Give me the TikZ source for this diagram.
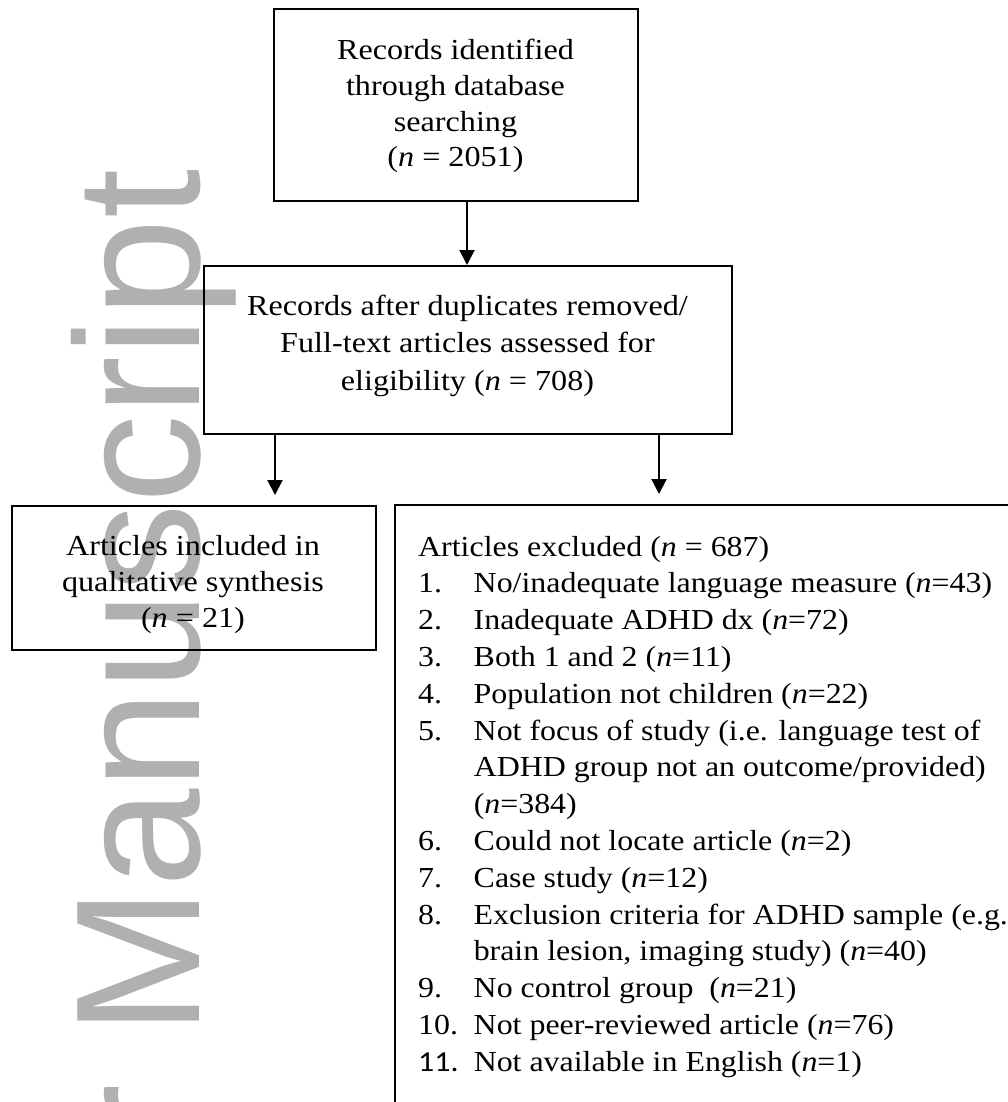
\documentclass[tikz,border=0pt]{standalone}
\usepackage{graphicx}
\usepackage{fontspec}
\setmainfont{Liberation Serif}
\newfontfamily\wmfont{Liberation Sans}
\newfontfamily\calfont{Carlito}
\usetikzlibrary{arrows.meta}
\definecolor{wmgray}{RGB}{176,176,176}
\newcommand\cblock[2]{\scalebox{1.11}[1]{\vtop{\baselineskip=#1\halign{\hfil##\hfil\cr#2\crcr}}}}
\newcommand\litem[2]{\hbox{\makebox[50.5pt][l]{#1}#2}}
\begin{document}
\begin{tikzpicture}[x=1pt,y=-1pt,
  box/.style={draw, rectangle, line width=2pt, inner sep=0pt},
  txt/.style={inner sep=0pt, font=\fontsize{29}{36}\selectfont},
  arr/.style={line width=2pt, -{Triangle[length=15pt,width=15pt]}},
  wm/.style={rotate=90, anchor=base east, inner sep=0pt, text=wmgray,
    font=\wmfont\fontsize{177}{177}\selectfont}]
\useasboundingbox (0,0) rectangle (1008,1102);
\fill[white] (0,0) rectangle (1008,1102);
\clip (0,0) rectangle (1008,1102);
% watermark
\node[wm] (wmark) at (199,169) {Author Manuscript};
% boxes
\node[box, minimum width=364pt, minimum height=192pt] (b1) at (456,105) {};
\node[box, minimum width=528pt, minimum height=168pt] (b2) at (468,350) {};
\node[box, minimum width=364pt, minimum height=144pt] (b3) at (194,578) {};
\node[box, minimum width=645pt, minimum height=625pt] (b4) at (717.5,817.5) {};
% texts
\node[txt, anchor=base] (t1) at (455.5,60) {\cblock{35.6pt}{Records identified\cr through database\cr searching\cr (\textit{n} = 2051)}};
\node[txt, anchor=base] (t2) at (467.5,315.5) {\cblock{37.3pt}{Records after duplicates removed/\cr Full-text articles assessed for\cr eligibility (\textit{n} = 708)}};
\node[txt, anchor=base] (t3) at (193,555) {\cblock{36pt}{Articles included in\cr qualitative synthesis\cr (\textit{n} = 21)}};
\node[txt, anchor=base west] (t4) at (418,556) {\scalebox{1.10}[1]{\vtop{\baselineskip=36.8pt
  \hbox{Articles excluded (\textit{n} = 687)}
  \litem{1.}{No/inadequate language measure (\textit{n}=43)}
  \litem{2.}{Inadequate ADHD dx (\textit{n}=72)}
  \litem{3.}{Both 1 and 2 (\textit{n}=11)}
  \litem{4.}{Population not children (\textit{n}=22)}
  \litem{5.}{Not focus of study (i.e. language test of}
  \litem{}{ADHD group not an outcome/provided)}
  \litem{}{(\textit{n}=384)}
  \litem{6.}{Could not locate article (\textit{n}=2)}
  \litem{7.}{Case study (\textit{n}=12)}
  \litem{8.}{Exclusion criteria for ADHD sample (e.g.}
  \litem{}{brain lesion, imaging study) (\textit{n}=40)}
  \litem{9.}{No control group\ \ (\textit{n}=21)}
  \litem{10.}{Not peer-reviewed article (\textit{n}=76)}
  \litem{{\calfont 11.}}{Not available in English (\textit{n}=1)}
}}};
% connectors
\draw[arr] ([xshift=11pt]b1.south) -- ([xshift=-1pt]b2.north);
\draw[arr, shorten >=10pt] ([xshift=-193pt]b2.south) -- ([xshift=81pt]b3.north);
\draw[arr, shorten >=10pt] ([xshift=191pt]b2.south) -- ([xshift=-58.5pt]b4.north);
\end{tikzpicture}
\end{document}
